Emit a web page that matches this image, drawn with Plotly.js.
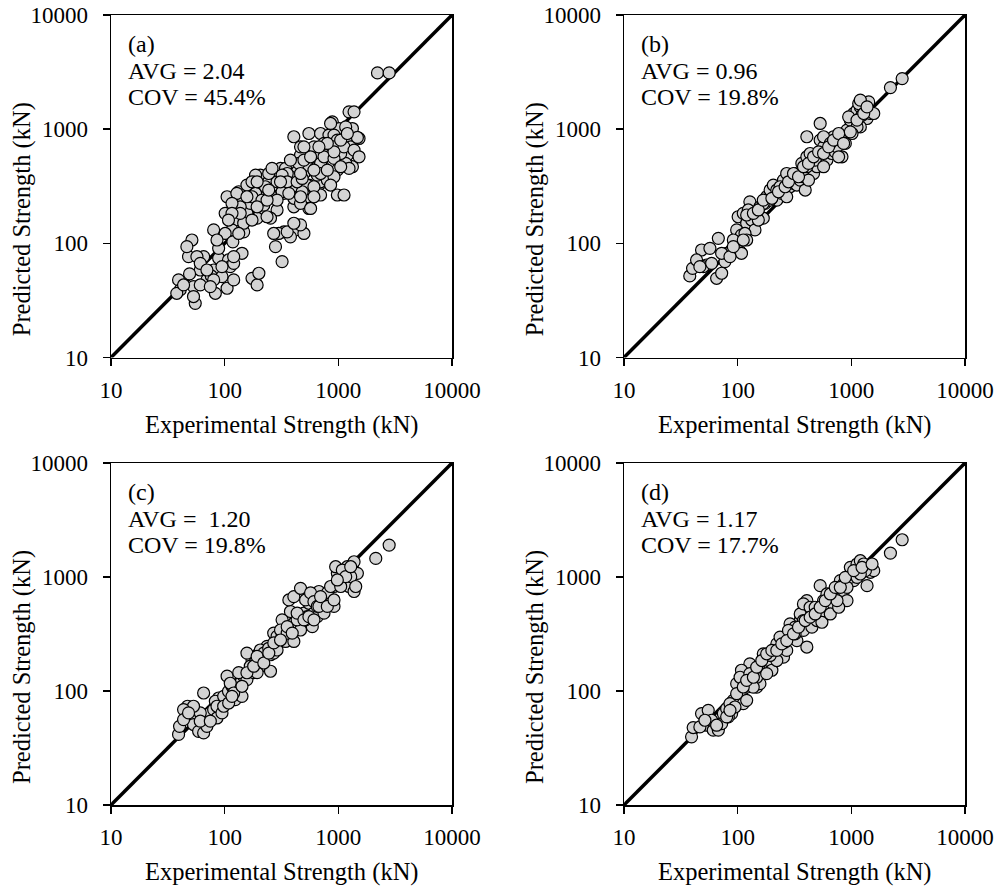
<!DOCTYPE html>
<html>
<head>
<meta charset="utf-8">
<script src="https://cdn.plot.ly/plotly-3.0.1.min.js"></script>
<style>
  html, body { margin: 0; padding: 0; background: #ffffff; }
  #chart { width: 1001px; height: 888px; }
</style>
</head>
<body>
<div id="chart"></div>
<script>
// ---------------- data (kN) ----------------
const panelLabels = ['(a)', '(b)', '(c)', '(d)'];
const avgText = ['2.04', '0.96', '&nbsp;1.20', '1.17'];
const covText = ['45.4%', '19.8%', '19.8%', '17.7%'];
const tickVals = [10, 100, 1000, 10000];
const tickText = ['10', '100', '1000', '10000'];
const diagonal = [10, 10000];
const xTitle = 'Experimental Strength (kN)';
const yTitle = 'Predicted Strength (kN)';

const expA = [2210,2800,1242,1375,885,1049,406,551,698,827,1200,1521,980,465,631,827,1084,1330,980,722,551,420,310,206,270,393,551,698,980,1122,187,261,332,532,698,157,206,289,406,551,465,610,855,1285,1200,133,105,101,142,124,147,116,80,193,253,332,420,498,299,379,320,406,253,434,532,698,39.3,51.5,48.1,46.5,65.3,53.2,55.1,80,88.5,108,142,105,82.8,120,174,193,200,320,280,61,40.6,53.2,37.9,49.1,69.8,76.3,94.7,112,120,88.5,57,61,80,244,343,379,498,532,631,698,800,465,570,157,168,221,236,147,101,118,157,187,228,174,916,1161,1242,1014,916,855,748,980,450,355,213,128,355,465,406,270,653,610,916,1049,1330,1471,1161,137,116,289,481,
  174,193,244,261,320,355,434,481,367,289,236,193,174,157,137,116,108,133,498,570,748,916,1049,1122,916,698,800,610,465,855,610,465,1049,1200,1375,1521,800,675,498,379,310,244,61,69.8,43.5,74.8,94.7,120,85.6];
const predA = [3110,3110,1418,1418,1159,980,858,916,916,887,858,829,775,592,592,612,612,469,438,484,438,409,453,396,383,313,324,335,265,265,274,256,274,239,265,231,196,196,209,202,700,700,725,700,592,283,256,183,224,160,126,131,131,166,166,126,131,122,122,114,283,248,265,424,324,346,47.8,107,76.4,93.5,76.4,41.8,29.8,58.4,74,71.5,81.8,40.4,36.5,47.8,49.4,43.2,54.7,69.2,93.5,58.4,39.1,34.2,36.5,54,47.8,51.8,51.1,62.5,66.8,90.4,76.4,43.2,47.8,346,453,383,409,484,453,501,358,224,202,183,224,216,171,150,122,103,324,396,313,256,383,501,453,1013,887,1122,750,801,501,409,239,274,126,145,150,122,396,313,700,612,1013,846,1047,209,224,346,283,
  346,346,409,453,396,346,346,370,274,239,239,209,160,256,183,183,160,122,536,573,573,554,469,700,633,409,438,438,409,324,256,256,801,916,655,573,750,700,700,536,346,293,66.8,58.4,43.2,41.8,62.5,76.4,107];

const expB = [37.9,40.1,48.1,53.2,57,65.3,72.3,67.6,77.3,80,88.5,105,98,108,101,112,120,128,133,142,147,157,168,174,180,193,206,221,244,253,270,289,310,332,355,393,367,406,434,465,498,532,532,570,610,675,698,722,748,800,855,916,980,1049,1122,1200,1285,1330,1375,1471,1574,1200,1122,947,406,532,570,827,434,2208,2800,43.5,49.8,91.6,116,124,152,193,221,270,320,379,420,481,570,653,773,885,1014,1242,1161,1422,108,120,168,236,406,
  120,137.5,152,168,200,228.5,261.5,280,310,343,379.5,420,465.5,515,570,631,698,774,855,980,1122,1285,1200,1375,72.3,85.6,91.6,112,59,46.5];
const predB = [51.8,60.4,87.4,64.6,90.4,49.4,54.7,110.6,69.2,81.8,87.4,84.5,131,118,171,183,150,231,160,131,183,209,166,224,256,293,324,239,274,358,409,313,335,324,358,293,501,573,438,409,469,573,801,700,536,612,858,633,700,801,916,980,1199,1371,1466,1567,1675,1516,1240,1371,1371,1047,1047,1282,858,1122,858,573,612,2312,2774,71.5,62.5,107,122,196,160,239,293,256,409,383,358,536,469,750,573,750,916,1325,1675,1734,81.8,107,224,313,469,
  177,183,196,239,248,283,313,346,409,383,469,501,573,633,612,700,801,916,750,948,1199,1371,1795,1567,81.8,76.4,93.5,107,66.8,62.5];

const expC = [39.3,40.1,47.2,49.8,53.2,59,65.3,69.8,74.8,80,85.6,88.5,91.6,82.8,98,105,108,116,124,128,137,147,157,174,187,180,200,206,228,253,253,270,270,289,320,343,367,379,406,406,450,465,498,532,551,590,610,653,675,698,748,800,855,916,980,1049,1200,1242,1330,1375,1471,947,1122,1375,2135,2800,367,406,465,515,570,610,320,236,206,157,142,61,53.2,43.5,65.3,85.6,112,133,168,193,221,244,289,310,355,434,515,653,855,1084,1285,916,94.7,120,
  43.5,48.1,61,74.8,98,108.4,116,142,157,180,193,221,244.5,270.5,310,355,393,434.5,498,551,610,675,698,800,916,1049,1161,1285,1422,980];
const predC = [41.6,49,73.5,60,50.8,44.3,42.9,49,64.2,68.7,58,86.8,78.5,81.3,89.8,135,99.3,110,84,103,117,135,126,188,182,145,215,165,201,208,149,215,322,301,301,272,421,498,393,272,380,343,482,449,588,367,482,449,746,552,482,725,588,825,1077,942,1231,825,1191,746,1077,1231,1114,1361,1456,1905,629,673,796,629,725,608,421,246,229,215,89.8,64.2,73.5,68.7,96,73.5,117,145,165,145,215,237,229,343,322,421,421,552,825,1151,1007,552,64.2,96,
  56.1,64.2,54.4,54.4,73.5,78.5,89.8,110,144.6,165,201,176,215,264,280,367,322,482,421,449,421,552,673,552,629,825,1007,1231,825,942];

const expD = [39.3,40.6,48.1,53.2,55.1,61,67.6,72.3,74.8,80,88.5,91.6,101,108,112,120,128,147,157,168,187,200,206,221,236,253,270,299,332,355,379,406,406,450,498,532,551,570,532,653,698,748,800,855,916,980,1049,1122,1200,1285,1375,1471,1574,1330,2208,2800,289,320,355,379,434,221,168,193,128,108,98,105,128,147,85.6,94.7,120,261,236,320,570,653,774,855,980,1122,59,82.8,137,152,180,280,379,481,610,748,1200,916,
  46.5,51.5,65.3,80,85.6,98,112,120,137.5,147,163,180,200,221,244.5,270.5,310,343,393,434.5,481,532.5,590,653,722,800,885,1049,1242,1521];
const predD = [39.6,47.8,63.4,50.1,67.7,45.3,45.3,51.8,63.4,70,63.4,82.8,88.7,94.8,77.5,108,124,108,116,162,185,152,227,259,227,198,227,297,277,415,340,243,621,363,415,474,401,621,839,561,710,812,929,759,621,1216,929,1300,1390,1300,839,1100,1136,1136,1621,2123,388,363,474,581,543,185,212,205,173,152,116,132,142,132,77.5,72.4,82.8,268,297,317,507,474,543,869,993,993,55.4,59.3,108,162,142,340,415,543,710,621,1062,812,
  48.4,55.4,50.1,59.3,67.7,94.8,108.4,124,132,162,185,212,227,227,259,277,317,363,415,444,474,543,621,710,812,812,993,1136,1216,1300];

const expAll = [expA, expB, expC, expD];
const predAll = [predA, predB, predC, predD];

// ---------------- layout geometry ----------------
const W = 1001, H = 888;
const colPx = [[111, 452], [624, 965]];
const rowPx = [[15, 357.5], [463, 805]];
const fx = p => p / W;
const fy = p => 1 - p / H;

const FONT = 'Liberation Serif, Times New Roman, serif';
const traces = [];
const layout = {
  width: W, height: H,
  margin: {l: 0, r: 0, t: 0, b: 0},
  paper_bgcolor: '#ffffff',
  plot_bgcolor: '#ffffff',
  showlegend: false,
  font: {family: FONT, size: 23, color: '#000000'},
  annotations: []
};

for (let i = 0; i < 4; i++) {
  const col = i % 2, row = Math.floor(i / 2);
  const n = i + 1;
  const xk = n === 1 ? 'xaxis' : 'xaxis' + n;
  const yk = n === 1 ? 'yaxis' : 'yaxis' + n;
  const xr = n === 1 ? 'x' : 'x' + n;
  const yr = n === 1 ? 'y' : 'y' + n;
  const axisCommon = {
    type: 'log',
    range: [1, 4],
    tickvals: tickVals,
    ticktext: tickText,
    ticks: 'outside',
    ticklen: 7,
    tickwidth: 1.5,
    tickcolor: '#000000',
    showline: true,
    linewidth: 1.5,
    linecolor: '#000000',
    mirror: true,
    showgrid: false,
    zeroline: false,
    tickfont: {family: FONT, size: 23, color: '#000000'}
  };
  layout[xk] = Object.assign({}, axisCommon, {
    domain: [fx(colPx[col][0]), fx(colPx[col][1])],
    anchor: yr,
    ticklabelstandoff: 4
  });
  layout[yk] = Object.assign({}, axisCommon, {
    domain: [fy(rowPx[row][1]), fy(rowPx[row][0])],
    anchor: xr,
    ticklabelstandoff: 10
  });

  traces.push({
    x: diagonal, y: diagonal, xaxis: xr, yaxis: yr,
    mode: 'lines', line: {color: '#000000', width: 3.5},
    hoverinfo: 'skip'
  });
  traces.push({
    x: expAll[i], y: predAll[i], xaxis: xr, yaxis: yr,
    mode: 'markers', type: 'scatter',
    marker: {size: 12, color: '#d3d3d3', line: {color: '#000000', width: 1.2}}
  });

  // panel text
  const lines = [panelLabels[i], 'AVG = ' + avgText[i], 'COV = ' + covText[i]];
  const offs = [29, 55.5, 81.5];
  for (let k = 0; k < 3; k++) {
    layout.annotations.push({
      xref: 'paper', yref: 'paper',
      x: fx(colPx[col][0] + 15), y: fy(rowPx[row][0] + offs[k]),
      xanchor: 'left', yanchor: 'middle', align: 'left', showarrow: false,
      text: lines[k],
      font: {family: FONT, size: 24, color: '#000000'}
    });
  }
  // x title
  layout.annotations.push({
    xref: 'paper', yref: 'paper',
    x: fx((colPx[col][0] + colPx[col][1]) / 2), y: fy(rowPx[row][1] + 67),
    xanchor: 'center', yanchor: 'middle', showarrow: false,
    text: xTitle,
    font: {family: FONT, size: 24.5, color: '#000000'}
  });
  // y title
  layout.annotations.push({
    xref: 'paper', yref: 'paper',
    x: fx(colPx[col][0] - 89), y: fy((rowPx[row][0] + rowPx[row][1]) / 2 + 33),
    xanchor: 'center', yanchor: 'middle', showarrow: false, textangle: -90,
    text: yTitle,
    font: {family: FONT, size: 24.5, color: '#000000'}
  });
}

Plotly.newPlot('chart', traces, layout, {displayModeBar: false, staticPlot: true});
</script>
</body>
</html>
